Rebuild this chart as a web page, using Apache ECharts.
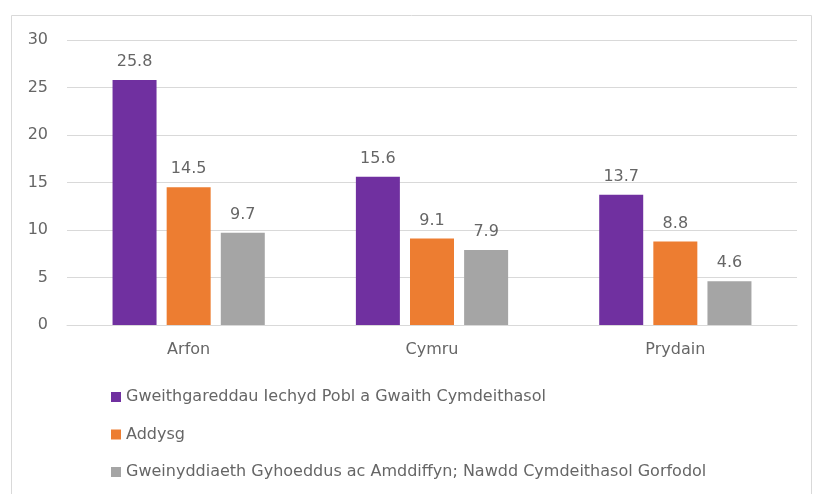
<!DOCTYPE html>
<html><head><meta charset="utf-8">
<script src="https://cdn.jsdelivr.net/npm/echarts@6/dist/echarts.min.js"></script>
<style>html,body{margin:0;padding:0;background:#fff}#c{width:813px;height:494px}</style>
</head><body><div id="c"></div>
<script>
const categories = ['Arfon', 'Cymru', 'Prydain'];
const seriesNames = ['Gweithgareddau Iechyd Pobl a Gwaith Cymdeithasol', 'Addysg', 'Gweinyddiaeth Gyhoeddus ac Amddiffyn; Nawdd Cymdeithasol Gorfodol'];
const health = [25.8, 15.6, 13.7];
const education = [14.5, 9.1, 8.8];
const publicAdmin = [9.7, 7.9, 4.6];
const colors = ['#7030A0', '#ED7D31', '#A5A5A5'];
const font = 'DejaVu Sans';
const txt = '#666666';
const chart = echarts.init(document.getElementById('c'));
const mk = (name, data, color) => ({
  name, type: 'bar', data, barWidth: 44, barGap: '23%',
  itemStyle: { color },
  label: { show: true, position: 'top', distance: 10, color: txt, fontSize: 16, fontFamily: font, formatter: p => p.value.toFixed(1) }
});
chart.setOption({
  animation: false,
  textStyle: { fontFamily: font },
  graphic: [{ type: 'rect', shape: { x: 11.5, y: 15.5, width: 800, height: 490 }, style: { fill: 'none', stroke: '#d9d9d9', lineWidth: 1 }, silent: true }],
  grid: { left: 67, right: 16, top: 40, bottom: 169 },
  legend: {
    orient: 'vertical', left: 106, top: 384, itemWidth: 10, itemHeight: 10, itemGap: 21.5,
    icon: 'rect', textStyle: { color: txt, fontSize: 16, fontFamily: font },
    data: seriesNames
  },
  xAxis: {
    type: 'category', data: categories,
    axisLine: { lineStyle: { color: '#d9d9d9' } }, axisTick: { show: false },
    axisLabel: { color: txt, fontSize: 16, fontFamily: font, margin: 17 }
  },
  yAxis: {
    type: 'value', min: 0, max: 30, interval: 5,
    axisLine: { show: false }, axisTick: { show: false },
    splitLine: { lineStyle: { color: '#d9d9d9' } },
    axisLabel: { color: txt, fontSize: 16, fontFamily: font, margin: 19 }
  },
  series: [mk(seriesNames[0], health, colors[0]), mk(seriesNames[1], education, colors[1]), mk(seriesNames[2], publicAdmin, colors[2])]
});
</script></body></html>
